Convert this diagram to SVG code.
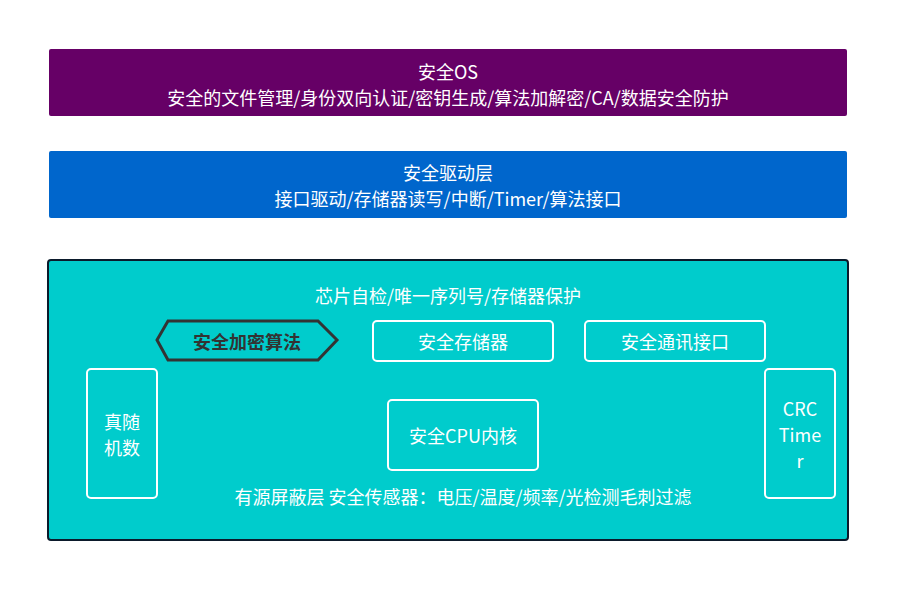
<svg xmlns="http://www.w3.org/2000/svg" width="910" height="602" viewBox="0 0 910 602">
<style>
text{font-family:"Noto Sans CJK SC","Noto Sans",sans-serif;font-size:18px;fill:#fff;text-anchor:middle;dominant-baseline:central}
.box{fill:none;stroke:#fff;stroke-width:2}
.dark{fill:#333;font-weight:bold}
</style>
<rect width="910" height="602" fill="#fff"/>
<g id="os">
<rect x="49" y="49" width="798" height="67" rx="2" fill="#660066"/>
<text x="448" y="71">安全OS</text>
<text x="448" y="97">安全的文件管理/身份双向认证/密钥生成/算法加解密/CA/数据安全防护</text>
</g>
<g id="driver">
<rect x="49" y="151" width="798" height="67" rx="2" fill="#0066CC"/>
<text x="448" y="172">安全驱动层</text>
<text x="448" y="198">接口驱动/存储器读写/中断/Timer/算法接口</text>
</g>
<g id="hardware">
<rect x="48" y="260" width="800" height="280" rx="3" fill="#00CCCC" stroke="#0b1a2b" stroke-width="2"/>
<text x="448" y="295">芯片自检/唯一序列号/存储器保护</text>
<text x="463" y="496">有源屏蔽层 安全传感器：电压/温度/频率/光检测毛刺过滤</text>
</g>
<g id="crypto">
<polygon points="157,340 168,321 318,321 337,340 318,360 168,360" fill="none" stroke="#333" stroke-width="3"/>
<text class="dark" x="247" y="341">安全加密算法</text>
</g>
<g id="storage">
<rect class="box" x="373" y="321" width="180" height="40" rx="4"/>
<text x="463" y="341">安全存储器</text>
</g>
<g id="comm">
<rect class="box" x="585" y="321" width="180" height="40" rx="4"/>
<text x="675" y="341">安全通讯接口</text>
</g>
<g id="rng">
<rect class="box" x="87" y="369" width="70" height="129" rx="4"/>
<text x="122" y="421">真随</text>
<text x="122" y="447">机数</text>
</g>
<g id="cpu">
<rect class="box" x="388" y="400" width="150" height="70" rx="4"/>
<text x="463" y="435">安全CPU内核</text>
</g>
<g id="crc">
<rect class="box" x="765" y="369" width="70" height="129" rx="4"/>
<text x="800" y="408">CRC</text>
<text x="800" y="434">Time</text>
<text x="800" y="460">r</text>
</g>
<g id="connectors"></g>
</svg>
